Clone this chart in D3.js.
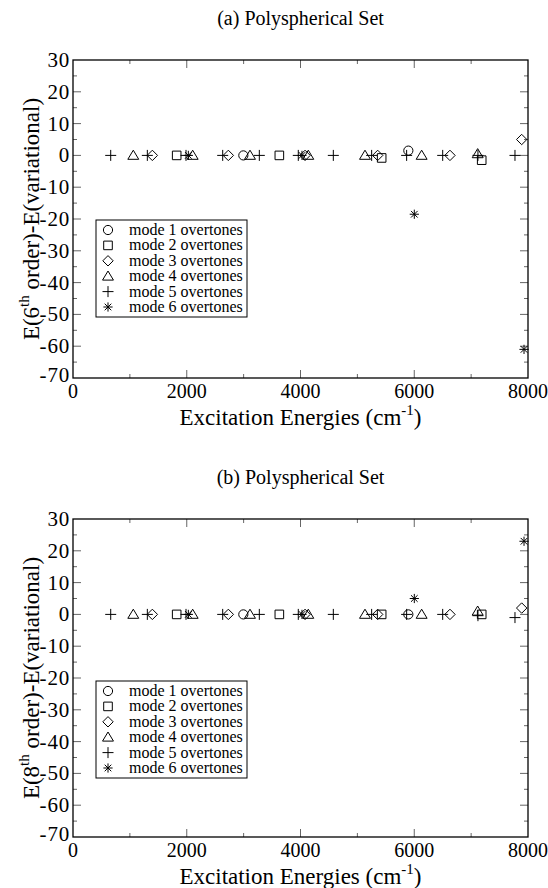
<!DOCTYPE html>
<html><head><meta charset="utf-8">
<script src="https://cdn.jsdelivr.net/npm/d3@7"></script>
<style>body{margin:0;background:#fff}svg{display:block}</style>
</head><body>
<script>
// ---- data ----
const seriesNames = ["mode 1 overtones","mode 2 overtones","mode 3 overtones","mode 4 overtones","mode 5 overtones","mode 6 overtones"];
const mode1E = [2995, 5896];
const mode2E = [1823, 3628, 5427, 7186];
const mode3E = [1395, 2731, 4080, 5357, 6628, 7889];
const mode4E = [1060, 2104, 3112, 4137, 5134, 6130, 7115];
const mode5E = [663, 1307, 1987, 2632, 3276, 3961, 4577, 5251, 5866, 6500, 7120, 7771];
const mode6E = [2028, 4026, 6001, 7930];
// panel (a): 6th order
const mode1A = [0, 1.5];
const mode2A = [0, 0, -0.8, -1.5];
const mode3A = [0, 0, 0, 0, 0, 5];
const mode4A = [0, 0, 0, 0, 0, 0, 0.5];
const mode5A = [0, 0, 0, 0, 0, 0, 0, 0, 0, 0, 0, 0];
const mode6A = [0, 0, -18.5, -61];
// panel (b): 8th order
const mode1B = [0, 0];
const mode2B = [0, 0, 0, 0];
const mode3B = [0, 0, 0, 0, 0, 2];
const mode4B = [0, 0, 0, 0, 0, 0, 1];
const mode5B = [0, 0, 0, 0, 0, 0, 0, 0, 0, 0, -0.4, -1];
const mode6B = [0, 0, 5, 23];
const xTicks = [0, 2000, 4000, 6000, 8000];
const yTicks = [30, 20, 10, 0, -10, -20, -30, -40, -50, -60, -70];
const symbols = ["circle","square","diamond","triangle","plus","star"];

const W = 548, H = 888;
const FONT = "'Times New Roman', 'Liberation Serif', Tinos, 'DejaVu Serif', serif";
const svg = d3.select("body").append("svg").attr("width", W).attr("height", H)
  .style("font-family", FONT);

function symPath(type) {
  switch (type) {
    case "circle": { const r = 4.6; return `M${r},0A${r},${r} 0 1,1 ${-r},0A${r},${r} 0 1,1 ${r},0Z`; }
    case "square": { const s = 4.3; return `M${-s},${-s}H${s}V${s}H${-s}Z`; }
    case "diamond": { const s = 5.2; return `M0,${-s}L${s},0L0,${s}L${-s},0Z`; }
    case "triangle": { const s = 5.2; return `M0,${-s}L${s*1.05},${s*0.75}L${-s*1.05},${s*0.75}Z`; }
    case "plus": { const s = 5.5; return `M${-s},0H${s}M0,${-s}V${s}`; }
    case "star": { const s = 4.6, d = s*0.72; return `M${-s},0H${s}M0,${-s}V${s}M${-d},${-d}L${d},${d}M${-d},${d}L${d},${-d}`; }
  }
}

function txt(sel) { return sel.append("text").style("font-family", FONT).attr("fill", "#000"); }

function panel(top, title, ordLabel, yVals, legendTop) {
  const left = 73, width = 455, height = 318;
  const x = d3.scaleLinear().domain([0, 8000]).range([left, left + width]);
  const y = d3.scaleLinear().domain([-70, 30]).range([top + height, top]);
  const g = svg.append("g");

  txt(g).attr("x", left + width/2).attr("y", top - 35).attr("text-anchor", "middle")
    .attr("font-size", 20).text(title);

  const tickColor = "#666";
  const xMinor = d3.range(1000, 8000, 2000);
  const yMinor = d3.range(-65, 30, 10);
  const tk = g.append("g").attr("stroke", tickColor).attr("stroke-width", 1);
  xTicks.slice(1, -1).forEach(v => {
    tk.append("line").attr("x1", x(v)).attr("x2", x(v)).attr("y1", top + height).attr("y2", top + height - 8);
    tk.append("line").attr("x1", x(v)).attr("x2", x(v)).attr("y1", top).attr("y2", top + 8);
  });
  xMinor.forEach(v => {
    tk.append("line").attr("x1", x(v)).attr("x2", x(v)).attr("y1", top + height).attr("y2", top + height - 4);
    tk.append("line").attr("x1", x(v)).attr("x2", x(v)).attr("y1", top).attr("y2", top + 4);
  });
  yTicks.slice(1, -1).forEach(v => {
    tk.append("line").attr("x1", left).attr("x2", left + 8).attr("y1", y(v)).attr("y2", y(v));
    tk.append("line").attr("x1", left + width).attr("x2", left + width - 8).attr("y1", y(v)).attr("y2", y(v));
  });
  yMinor.forEach(v => {
    tk.append("line").attr("x1", left).attr("x2", left + 4).attr("y1", y(v)).attr("y2", y(v));
    tk.append("line").attr("x1", left + width).attr("x2", left + width - 4).attr("y1", y(v)).attr("y2", y(v));
  });

  g.append("rect").attr("x", left).attr("y", top).attr("width", width).attr("height", height)
    .attr("fill", "none").attr("stroke", "#000").attr("stroke-width", 1.3);

  xTicks.forEach(v => {
    txt(g).attr("x", x(v)).attr("y", top + height + 20).attr("text-anchor", "middle")
      .attr("font-size", 20).text(v);
  });
  yTicks.forEach(v => {
    txt(g).attr("x", left - 3).attr("y", y(v) + (v === -70 ? 4 : 7)).attr("text-anchor", "end")
      .attr("font-size", 21).attr("letter-spacing", 0.8).text(v);
  });

  const xl = txt(g).attr("x", left + width/2).attr("y", top + height + 47)
    .attr("text-anchor", "middle").attr("font-size", 23);
  xl.append("tspan").text("Excitation Energies (cm");
  xl.append("tspan").attr("font-size", 15).attr("dy", -10).text("-1");
  xl.append("tspan").attr("dy", 10).text(")");

  const yl = txt(g).attr("transform", `translate(39,${top + height/2}) rotate(-90)`)
    .attr("text-anchor", "middle").attr("font-size", 23);
  yl.append("tspan").text("E(" + ordLabel);
  yl.append("tspan").attr("font-size", 15).attr("dy", -10).text("th");
  yl.append("tspan").attr("dy", 10).text(" order)-E(variational)");

  const energies = [mode1E, mode2E, mode3E, mode4E, mode5E, mode6E];
  energies.forEach((es, i) => {
    g.append("g").selectAll("path").data(es.map((e, j) => [e, yVals[i][j]])).join("path")
      .attr("transform", d => `translate(${x(d[0])},${y(d[1])})`)
      .attr("d", symPath(symbols[i]))
      .attr("fill", "none").attr("stroke", "#000").attr("stroke-width", 1);
  });

  const lx = 96, lw = 151, rowH = 15.4, lh = 97;
  const lg = g.append("g");
  lg.append("rect").attr("x", lx).attr("y", legendTop).attr("width", lw).attr("height", lh)
    .attr("fill", "#fff").attr("stroke", "#000").attr("stroke-width", 1);
  seriesNames.forEach((n, i) => {
    const cy = legendTop + 10 + i * rowH;
    lg.append("path").attr("transform", `translate(108,${cy})`).attr("d", symPath(symbols[i]))
      .attr("fill", "none").attr("stroke", "#000").attr("stroke-width", 1);
    txt(lg).attr("x", 129).attr("y", cy + 5).attr("font-size", 16).text(n);
  });
}

panel(60, "(a) Polyspherical Set", "6", [mode1A, mode2A, mode3A, mode4A, mode5A, mode6A], 220);
panel(519, "(b) Polyspherical Set", "8", [mode1B, mode2B, mode3B, mode4B, mode5B, mode6B], 681);
</script>
</body></html>
